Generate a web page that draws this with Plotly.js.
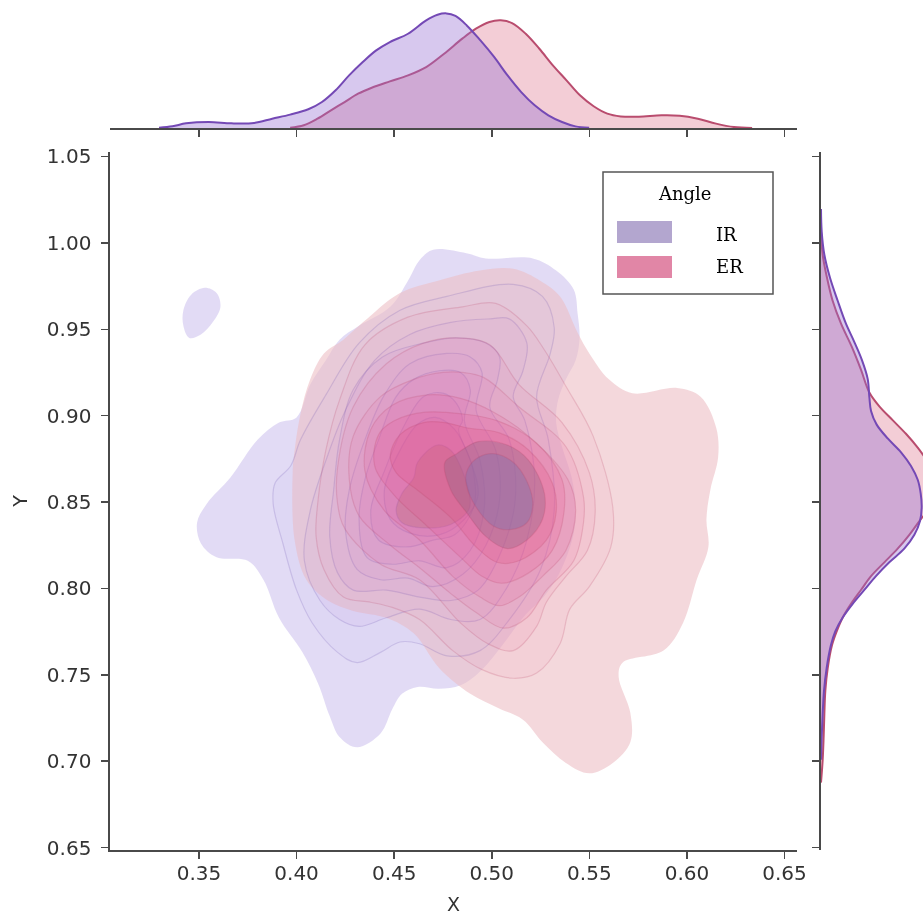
<!DOCTYPE html>
<html>
<head>
<meta charset="utf-8">
<script src="https://cdn.plot.ly/plotly-3.0.1.min.js"></script>
<style>html,body{margin:0;padding:0;background:#fff;overflow:hidden}#chart{width:923px;height:917px;filter:blur(0.55px)}</style>
</head>
<body>
<div id="chart"></div>
<script>
const xTicks = [0.35,0.40,0.45,0.50,0.55,0.60,0.65];
const yTicks = [0.65,0.70,0.75,0.80,0.85,0.90,0.95,1.00,1.05];

// Marginal density along X
const irTopX = [.3295,.3364,.3434,.3550,.3666,.3782,.3875,.3967,.4060,.4130,.4200,.4269,.4339,.4408,.4478,.4571,.4664,.4722,.4768,.4814,.4872,.4942,.5012,.5081,.5151,.5220,.5290,.5360,.5429,.5499];
const irTopD = [.02,.12,.34,.44,.34,.37,.68,.98,1.37,1.90,2.76,3.85,4.83,5.68,6.29,6.90,7.88,8.29,8.39,8.20,7.51,6.41,5.20,3.85,2.63,1.66,.93,.44,.12,.02];
const erTopX = [.3967,.4037,.4107,.4176,.4246,.4315,.4385,.4478,.4571,.4664,.4756,.4849,.4919,.4988,.5046,.5104,.5174,.5244,.5313,.5383,.5452,.5522,.5592,.5661,.5754,.5870,.5963,.6056,.6149,.6241,.6334];
const erTopD = [.02,.20,.68,1.29,1.90,2.51,2.95,3.41,3.85,4.46,5.44,6.54,7.27,7.76,7.88,7.68,6.90,5.80,4.59,3.49,2.39,1.59,1.05,.85,.83,.93,.90,.68,.32,.07,0];

// Marginal density along Y
const irSideY = [1.0196,1.0064,.9931,.9798,.9665,.9532,.9426,.9320,.9213,.9107,.9027,.8948,.8868,.8788,.8709,.8629,.8549,.8469,.8390,.8310,.8230,.8151,.8071,.7991,.7911,.7832,.7752,.7672,.7539,.7407,.7274,.7141,.7008];
const irSideD = [0,.06,.28,.75,1.39,2.08,2.78,3.42,3.89,4.03,4.17,4.64,5.56,6.67,7.5,8.06,8.31,8.39,8.25,7.78,6.94,5.69,4.58,3.61,2.64,1.81,1.19,.83,.47,.25,.14,.06,0];
const erSideY = [1.0064,.9931,.9798,.9665,.9532,.9399,.9266,.9134,.9054,.8974,.8895,.8815,.8762,.8682,.8576,.8496,.8443,.8390,.8310,.8230,.8151,.8071,.7991,.7911,.7832,.7752,.7672,.7539,.7407,.7274,.7141,.7008,.6876];
const erSideD = [0,.14,.5,.97,1.67,2.56,3.33,4.03,4.86,5.97,7.08,8.06,8.61,9.31,9.72,9.3,8.8,8.2,7.36,6.39,5.28,4.17,3.33,2.5,1.81,1.31,.92,.56,.36,.28,.22,.14,0];

// Density contours, [x, y] pairs
const irIsland = [[.353,.974],[.359,.971],[.361,.963],[.357,.954],[.351,.947],[.345,.945],[.342,.952],[.342,.961],[.346,.970]];
const irLevel1 = [[.470,.996],[.487,.994],[.497,.991],[.521,.991],[.533,.984],[.542,.973],[.544,.959],[.545,.945],[.543,.932],[.538,.921],[.534,.909],[.533,.896],[.536,.882],[.541,.864],[.543,.847],[.542,.832],[.536,.812],[.528,.797],[.516,.783],[.506,.768],[.495,.753],[.484,.744],[.473,.742],[.462,.743],[.454,.739],[.449,.730],[.443,.716],[.431,.708],[.422,.714],[.417,.726],[.411,.745],[.403,.763],[.391,.783],[.383,.805],[.375,.816],[.359,.818],[.351,.826],[.349,.838],[.354,.849],[.366,.864],[.380,.886],[.391,.896],[.400,.899],[.407,.918],[.415,.932],[.422,.944],[.432,.952],[.448,.963],[.457,.978],[.463,.990]];
const irLevel2 = [[.397,.871],[.389,.861],[.388,.849],[.393,.826],[.400,.799],[.408,.780],[.421,.763],[.431,.757],[.443,.763],[.453,.769],[.463,.768],[.477,.761],[.494,.764],[.509,.782],[.525,.811],[.532,.845],[.529,.886],[.523,.911],[.530,.936],[.532,.951],[.526,.969],[.511,.976],[.477,.969],[.453,.961],[.432,.942],[.415,.912],[.402,.886]];
const irLevel3 = [[.404,.816],[.412,.793],[.422,.782],[.432,.778],[.446,.783],[.463,.788],[.479,.782],[.494,.782],[.507,.799],[.518,.828],[.522,.863],[.517,.897],[.511,.911],[.516,.926],[.518,.942],[.509,.956],[.499,.956],[.479,.954],[.458,.947],[.440,.932],[.425,.903],[.415,.874],[.407,.845]];
const irLevel4 = [[.419,.857],[.417,.830],[.421,.809],[.429,.799],[.446,.799],[.463,.795],[.479,.793],[.493,.799],[.504,.819],[.512,.851],[.509,.886],[.499,.905],[.503,.921],[.504,.934],[.497,.942],[.482,.945],[.465,.942],[.444,.934],[.429,.915],[.422,.886]];
const irLevel5 = [[.427,.857],[.425,.834],[.431,.811],[.443,.805],[.457,.806],[.470,.801],[.485,.808],[.497,.825],[.504,.851],[.502,.880],[.492,.903],[.495,.925],[.489,.934],[.477,.936],[.458,.930],[.445,.912],[.435,.886]];
const irLevel6 = [[.435,.863],[.432,.840],[.436,.818],[.449,.814],[.463,.816],[.477,.812],[.489,.822],[.496,.845],[.494,.874],[.486,.897],[.489,.915],[.484,.925],[.473,.926],[.460,.921],[.451,.911],[.442,.886]];
const irLevel7 = [[.445,.868],[.438,.845],[.442,.828],[.457,.824],[.470,.828],[.481,.831],[.491,.848],[.490,.871],[.483,.892],[.485,.897],[.482,.907],[.475,.913],[.465,.911],[.455,.894]];
const irLevel8 = [[.453,.880],[.445,.857],[.448,.840],[.458,.832],[.473,.831],[.486,.840],[.493,.854],[.489,.874],[.481,.892],[.471,.899],[.462,.895]];
const irLevel9 = [[.462,.873],[.472,.883],[.479,.880],[.485,.868],[.489,.851],[.488,.845],[.479,.837],[.465,.835],[.454,.838],[.451,.845],[.454,.855],[.460,.864]];

const erLevel1 = [[.560,.921],[.572,.913],[.595,.916],[.607,.911],[.615,.893],[.616,.876],[.612,.857],[.610,.840],[.611,.824],[.605,.805],[.598,.780],[.588,.764],[.567,.757],[.565,.749],[.571,.728],[.571,.711],[.562,.699],[.550,.693],[.538,.699],[.526,.711],[.516,.724],[.503,.731],[.489,.739],[.473,.754],[.460,.774],[.446,.783],[.429,.787],[.416,.793],[.405,.805],[.399,.828],[.398,.867],[.399,.880],[.402,.901],[.407,.921],[.414,.936],[.424,.944],[.434,.954],[.453,.971],[.472,.978],[.494,.984],[.511,.985],[.525,.978],[.535,.969],[.544,.948],[.550,.936]];
const erLevel2 = [[.552,.888],[.562,.847],[.561,.824],[.550,.801],[.540,.788],[.535,.768],[.523,.751],[.511,.748],[.495,.753],[.480,.764],[.463,.782],[.449,.789],[.438,.792],[.424,.795],[.414,.811],[.410,.830],[.411,.851],[.415,.880],[.422,.909],[.435,.941],[.457,.957],[.485,.963],[.502,.965],[.518,.952],[.527,.938],[.538,.917]];
const erLevel3 = [[.482,.945],[.499,.941],[.514,.918],[.536,.896],[.550,.867],[.553,.844],[.549,.822],[.538,.807],[.528,.792],[.523,.778],[.511,.764],[.498,.768],[.484,.780],[.463,.805],[.443,.814],[.425,.834],[.421,.849],[.421,.870],[.429,.905],[.446,.930],[.465,.942]];
const erLevel4 = [[.485,.925],[.496,.922],[.514,.905],[.538,.882],[.547,.853],[.547,.838],[.542,.816],[.528,.799],[.518,.783],[.506,.777],[.492,.786],[.479,.797],[.463,.812],[.448,.825],[.432,.842],[.427,.863],[.429,.888],[.443,.911],[.460,.921],[.475,.925]];
const erLevel5 = [[.484,.910],[.501,.902],[.519,.888],[.539,.863],[.543,.845],[.538,.822],[.526,.807],[.514,.795],[.504,.790],[.494,.795],[.480,.807],[.463,.828],[.445,.845],[.435,.868],[.438,.892],[.449,.906],[.467,.912]];
const erLevel6 = [[.485,.901],[.503,.897],[.523,.884],[.536,.863],[.537,.844],[.531,.822],[.519,.809],[.505,.803],[.495,.807],[.484,.818],[.466,.837],[.450,.854],[.440,.871],[.442,.889],[.450,.897],[.466,.902]];
const erLevel7 = [[.448,.877],[.453,.889],[.465,.896],[.476,.896],[.487,.893],[.504,.890],[.519,.880],[.531,.861],[.533,.844],[.528,.828],[.514,.816],[.503,.815],[.492,.824],[.479,.841],[.463,.856],[.451,.867]];
const erLevel8 = [[.476,.873],[.482,.878],[.493,.885],[.508,.883],[.519,.874],[.527,.855],[.526,.840],[.518,.828],[.508,.823],[.497,.830],[.487,.844],[.479,.857]];
const erLevel9 = [[.487,.867],[.492,.875],[.501,.878],[.511,.873],[.518,.862],[.521,.849],[.518,.838],[.509,.834],[.501,.836],[.492,.847],[.487,.860]];

const irLevels = [irLevel1,irLevel2,irLevel3,irLevel4,irLevel5,irLevel6,irLevel7,irLevel8,irLevel9];
const erLevels = [erLevel1,erLevel2,erLevel3,erLevel4,erLevel5,erLevel6,erLevel7,erLevel8,erLevel9];

const irFills = ['rgba(170,150,225,.34)','rgba(170,150,240,.06)','rgba(185,130,230,.07)','rgba(195,120,220,.08)','rgba(200,110,210,.08)','rgba(205,100,200,.09)','rgba(205,90,190,.10)','rgba(195,90,170,.11)','rgba(150,115,90,.28)'];
const erFills = ['rgba(237,190,197,.6)','rgba(235,110,150,.07)','rgba(235,100,155,.09)','rgba(235,95,155,.11)','rgba(235,85,150,.14)','rgba(235,75,140,.17)','rgba(230,75,125,.20)','rgba(130,100,130,.30)','rgba(120,115,175,.34)'];
const irLine = 'rgba(105,80,175,.2)';
const erLine = 'rgba(185,65,100,.2)';

function band(pts, fill, lineColor){
  const closed = pts.concat([pts[0]]);
  return {
    type:'scatter', mode:lineColor ? 'lines' : 'none', xaxis:'x', yaxis:'y',
    x:closed.map(p=>p[0]), y:closed.map(p=>p[1]),
    fill:'toself', fillcolor:fill,
    line:{shape:'spline', smoothing:1, width:lineColor?1.2:0, color:lineColor||'rgba(0,0,0,0)'},
    hoverinfo:'skip', showlegend:false
  };
}

const traces = [];
traces.push(band(irIsland, irFills[0], null));
traces.push(band(irLevel1, irFills[0], null));
traces.push(band(erLevel1, erFills[0], null));
irLevels.forEach((pts,i)=>{ if(i>0) traces.push(band(pts, irFills[i], irLine)); });
erLevels.forEach((pts,i)=>{ if(i>0) traces.push(band(pts, erFills[i], erLine)); });

const erFill='rgba(215,90,120,.30)', irFill='rgba(150,110,210,.38)';
traces.push({type:'scatter',mode:'lines',x:erTopX,y:erTopD,xaxis:'x2',yaxis:'y2',fill:'tozeroy',fillcolor:erFill,line:{color:'#b94c6e',width:2,shape:'spline'},showlegend:false});
traces.push({type:'scatter',mode:'lines',x:irTopX,y:irTopD,xaxis:'x2',yaxis:'y2',fill:'tozeroy',fillcolor:irFill,line:{color:'#7449b5',width:2,shape:'spline'},showlegend:false});
traces.push({type:'scatter',mode:'lines',x:erSideD,y:erSideY,xaxis:'x3',yaxis:'y3',fill:'tozerox',fillcolor:erFill,line:{color:'#b94c6e',width:2,shape:'spline'},showlegend:false});
traces.push({type:'scatter',mode:'lines',x:irSideD,y:irSideY,xaxis:'x3',yaxis:'y3',fill:'tozerox',fillcolor:irFill,line:{color:'#7449b5',width:2,shape:'spline'},showlegend:false});

const W=923,H=917;
const px=v=>v/W, py=v=>1-v/H;
const tickFont={family:'"DejaVu Sans",sans-serif',size:20,color:'#333'};
const titleFont={family:'"DejaVu Sans",sans-serif',size:19,color:'#333'};
const axisCommon={showgrid:false,zeroline:false,showline:true,linecolor:'#4a4a4a',linewidth:1.6,ticks:'outside',ticklen:7,tickwidth:1.5,tickcolor:'#4a4a4a',mirror:false};
const xRange=[0.3044,0.6564], yRange=[0.6486,1.0526];

const legendFont={family:'"DejaVu Serif",serif',size:18,color:'#000'};
const legendLabel=(x,y,text)=>({xref:'paper',yref:'paper',x:px(x),y:py(y),xanchor:'center',yanchor:'middle',text,showarrow:false,font:legendFont});
const layout={
  width:W,height:H,margin:{l:0,r:0,t:0,b:0},paper_bgcolor:'#fff',plot_bgcolor:'rgba(0,0,0,0)',showlegend:false,
  xaxis:{...axisCommon,domain:[px(110),px(797)],range:xRange,tickmode:'array',tickvals:xTicks,ticktext:xTicks.map(v=>v.toFixed(2)),tickfont:tickFont,ticklabelstandoff:-3,anchor:'y',
    title:{text:'X',font:titleFont,standoff:14}},
  yaxis:{...axisCommon,domain:[py(850),py(152)],range:yRange,tickmode:'array',tickvals:yTicks,ticktext:yTicks.map(v=>v.toFixed(2)),tickfont:tickFont,ticklabelstandoff:6,anchor:'x',
    title:{text:'Y',font:titleFont,standoff:14}},
  xaxis2:{...axisCommon,domain:[px(110),px(797)],range:xRange,tickmode:'array',tickvals:xTicks,showticklabels:false,anchor:'y2'},
  yaxis2:{domain:[py(128),1],range:[0,9.37],visible:false,anchor:'x2'},
  xaxis3:{domain:[px(821),1],range:[0,8.5],visible:false,anchor:'y3'},
  yaxis3:{...axisCommon,domain:[py(850),py(152)],range:yRange,tickmode:'array',tickvals:yTicks,showticklabels:false,anchor:'x3'},
  shapes:[
    {type:'rect',xref:'paper',yref:'paper',x0:px(603),x1:px(773),y0:py(294),y1:py(172),line:{color:'#555',width:1.5},fillcolor:'#fff',layer:'above'},
    {type:'rect',xref:'paper',yref:'paper',x0:px(617),x1:px(672),y0:py(243),y1:py(221),line:{width:0},fillcolor:'#b3a6cf',layer:'above'},
    {type:'rect',xref:'paper',yref:'paper',x0:px(617),x1:px(672),y0:py(278),y1:py(256),line:{width:0},fillcolor:'#e186a6',layer:'above'}
  ],
  annotations:[legendLabel(685,194,'Angle'),legendLabel(726,234,'IR'),legendLabel(729,266,'ER')]
};
Plotly.newPlot('chart',traces,layout,{displayModeBar:false,staticPlot:true});
</script>
</body>
</html>
